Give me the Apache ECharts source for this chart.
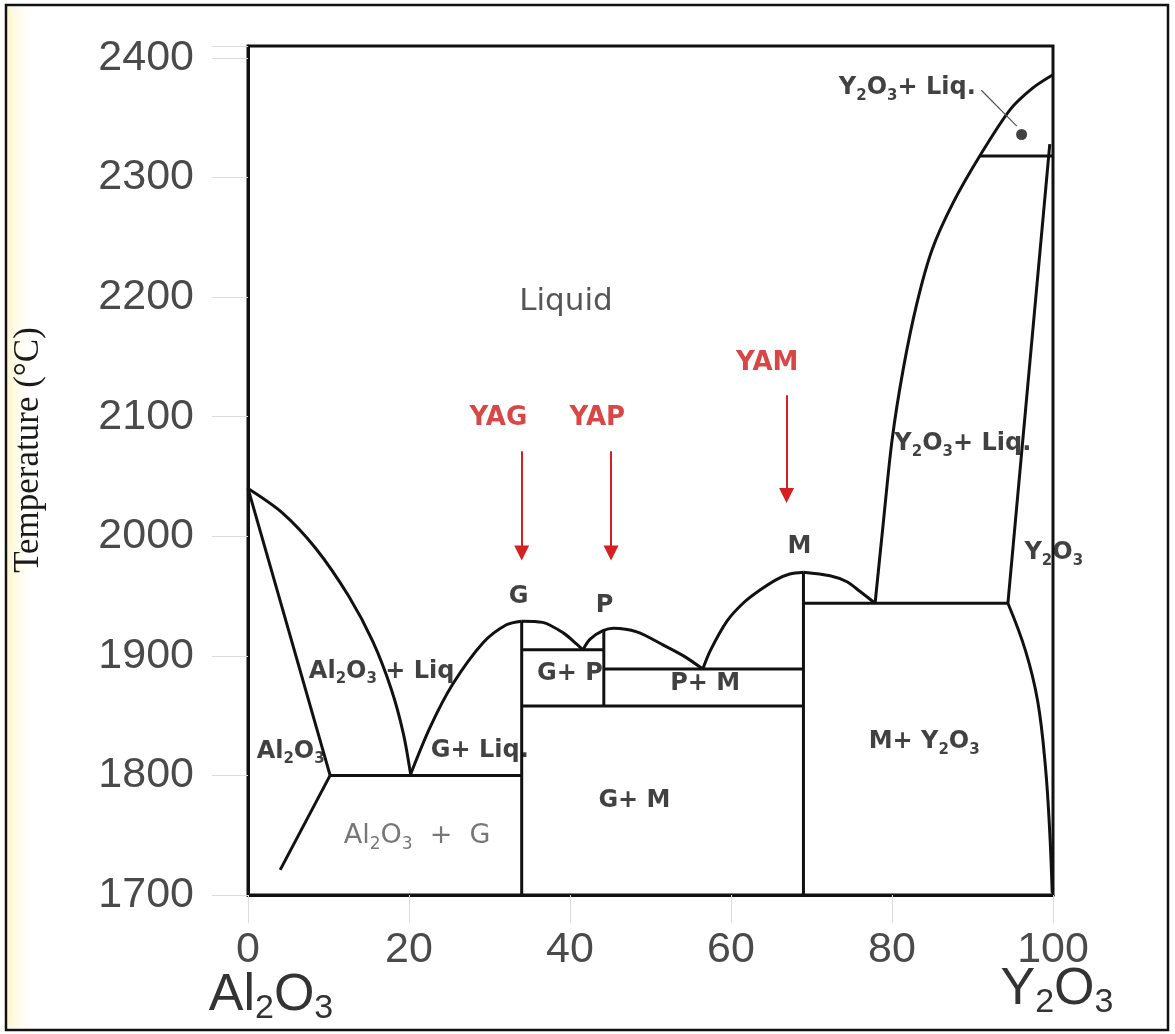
<!DOCTYPE html>
<html><head><meta charset="utf-8">
<script src="https://cdn.jsdelivr.net/npm/echarts@6/dist/echarts.min.js"></script>
<style>html,body{margin:0;padding:0;background:#fff}#c{width:1175px;height:1034px}</style>
</head><body><div id="c"></div>
<script>
// ---- axis ranges / ticks ----
const xRange = [0, 100];
const xTickStep = 20;
const yRange = [1700, 2410];
const yTickStep = 100;

// ---- phase boundaries (mol% Y2O3, °C) ----
const liqAl2O3      = [[0,2040],[4.2,2020],[8.4,1990],[12.5,1950],[15.5,1912],[17.8,1872],[19.3,1835],[20.2,1801]];
const solidusAl2O3  = [[0,2040],[10.2,1800]];
const solvusAl2O3   = [[10.2,1800],[4.0,1721]];
const eutecticAG    = [[10.2,1800],[34,1800]];
const liqYAGleft    = [[20.2,1801],[22.6,1840],[25.4,1876],[29.2,1911],[32.1,1926],[34,1929]];
const liqYAGright   = [[34,1929],[36.6,1928],[39.2,1919],[40.8,1910],[41.6,1905]];
const liqYAP        = [[41.6,1905],[42.5,1914],[44.1,1921],[45.4,1923],[48.3,1920],[51.6,1909],[54.1,1900],[56.5,1889]];
const liqYAMleft    = [[56.5,1889],[57.4,1904],[59.5,1929],[61.5,1944],[63.6,1955],[65.7,1964],[67.3,1968.5],[69,1970]];
const liqYAMright   = [[69,1970],[72.3,1967],[74.4,1962],[76.0,1954],[77.9,1944]];
const liqY2O3       = [[77.9,1944],[78.9,2010],[80.0,2080],[81.4,2140],[83.1,2195],[85.0,2240],[87.6,2279],[90.9,2318],[94.7,2357],[97.5,2375],[100,2386]];
const solidusY2O3   = [[94.4,1944],[99.6,2328]];
const solvusY2O3    = [[94.4,1944],[96.6,1904],[98.1,1862],[99.05,1808],[99.6,1752],[99.9,1702]];
const lineYAG       = [[34,1700],[34,1929]];
const lineYAP       = [[44.2,1858],[44.2,1921]];
const lineYAM       = [[69,1700],[69,1970]];
const tieGP         = [[34,1905],[44.2,1905]];
const tieGM         = [[34,1858],[69,1858]];
const tiePM         = [[44.2,1889],[69,1889]];
const tieMY         = [[69,1944],[94.4,1944]];
const tieY2O3top    = [[90.9,2318],[100,2318]];
const leader        = [[91.1,2373],[95.5,2343]];
const dotPoint      = [[96.1,2336]];

// ---- red composition arrows ----
const arrowX    = [34, 45.1, 66.9];
const arrowFrom = [2071, 2071, 2118];
const arrowTo   = [1986, 1986, 2034];

// ---- region / point labels ----
const labelText = ['Liquid','G','P','M','Al{s|2}O{s|3} + Liq','Al{s|2}O{s|3}','G+ Liq.','Al{s|2}O{s|3}  +  G','G+ P','P+ M','G+ M','M+ Y{s|2}O{s|3}','Y{s|2}O{s|3}+ Liq.','Y{s|2}O{s|3}','Y{s|2}O{s|3}+ Liq.','YAG','YAP','YAM'];
const labelX    = [39.5, 33.6, 44.3, 68.5, 16.6, 5.3, 28.8, 21.0, 40.0, 56.8, 48.0, 84.0, 88.8, 100.1, 81.9, 31.1, 43.4, 64.5];
const labelY    = [2196, 1949, 1942, 1991, 1887, 1820, 1821, 1749, 1885, 1877, 1779, 1828, 2077, 1986, 2375, 2099, 2099, 2145];
const labelKind = ['liquid','bold','bold','bold','bold','bold','bold','gray','bold','bold','bold','bold','bold','bold','bold','red','red','red'];

const kindStyle = {
  bold:   {fontFamily:'DejaVu Sans', fontWeight:'bold', fontSize:24, color:'#111', sub:15, pad:16},
  gray:   {fontFamily:'DejaVu Sans', fontWeight:'normal', fontSize:27, color:'#555', sub:17, pad:16},
  liquid: {fontFamily:'DejaVu Sans', fontWeight:'normal', fontSize:31, color:'#2a2a2a', sub:18, pad:16},
  red:    {fontFamily:'DejaVu Sans', fontWeight:'bold', fontSize:26, color:'#d01818', sub:15, pad:16}
};

const boundaries = [
  [liqAl2O3, 0.3], [solidusAl2O3, 0], [solvusAl2O3, 0], [eutecticAG, 0],
  [liqYAGleft, 0.3], [liqYAGright, 0.3], [liqYAP, 0.3], [liqYAMleft, 0.3], [liqYAMright, 0.3],
  [liqY2O3, 0.3], [solidusY2O3, 0], [solvusY2O3, 0.4],
  [lineYAG, 0], [lineYAP, 0], [lineYAM, 0], [tieGP, 0], [tieGM, 0], [tiePM, 0], [tieMY, 0], [tieY2O3top, 0]
];

const series = boundaries.map(([d, sm]) => ({
  type: 'line', data: d, showSymbol: false, smooth: sm, clip: false, silent: true,
  lineStyle: {color: '#111', width: 3}, z: 3
}));

series.push({
  type: 'line', data: leader, showSymbol: false, silent: true,
  lineStyle: {color: '#555', width: 1.2}, z: 3
});
series.push({
  type: 'scatter', data: dotPoint, symbol: 'circle', symbolSize: 11, silent: true,
  itemStyle: {color: '#111'}, z: 4
});
series.push({
  type: 'line', data: [], silent: true,
  markLine: {
    silent: true, symbol: ['none', 'triangle'], symbolSize: [15, 15],
    lineStyle: {color: '#d42020', width: 2, type: 'solid'},
    itemStyle: {color: '#d42020'},
    label: {show: false}, animation: false,
    data: arrowX.map((x, i) => [{coord: [x, arrowFrom[i]]}, {coord: [x, arrowTo[i]]}])
  }
});
series.push({
  type: 'scatter', symbolSize: 0, silent: true, clip: false, z: 5,
  data: labelText.map((t, i) => {
    const k = kindStyle[labelKind[i]];
    return {
      value: [labelX[i], labelY[i]],
      label: {
        show: true, position: 'inside', formatter: t,
        fontFamily: k.fontFamily, fontWeight: k.fontWeight, fontSize: k.fontSize, color: k.color,
        rich: {s: {fontFamily: k.fontFamily, fontWeight: k.fontWeight, fontSize: k.sub, color: k.color, padding: [k.pad, 0, 0, 0]}}
      }
    };
  })
});

const chart = echarts.init(document.getElementById('c'), null, {renderer: 'canvas'});
chart.setOption({
  animation: false,
  backgroundColor: '#ffffff',
  grid: {left: 248, right: 122, top: 46, bottom: 139, show: true, borderColor: '#111', borderWidth: 3, backgroundColor: 'transparent'},
  xAxis: {
    type: 'value', min: xRange[0], max: xRange[1], interval: xTickStep,
    axisLine: {show: true, onZero: false, lineStyle: {color: '#111', width: 3}},
    axisTick: {show: true, length: 28, inside: false, lineStyle: {color: '#dcdcdc', width: 1}},
    axisLabel: {margin: 34, fontFamily: 'Liberation Sans', fontSize: 43, color: '#4a4a4a'},
    splitLine: {show: false}
  },
  yAxis: {
    type: 'value', min: yRange[0], max: yRange[1], interval: yTickStep,
    axisLine: {show: true, onZero: false, lineStyle: {color: '#111', width: 3}},
    axisTick: {show: true, length: 36, lineStyle: {color: '#dcdcdc', width: 1}},
    axisLabel: {margin: 54, fontFamily: 'Liberation Sans', fontSize: 43, color: '#4a4a4a',
      formatter: v => (v % 100 === 0 ? String(v) : '')},
    splitLine: {show: false}
  },
  graphic: [
    {type: 'rect', z: -10, shape: {x: 8, y: 7, width: 30, height: 1021},
      style: {fill: {type: 'linear', x: 0, y: 0, x2: 1, y2: 0, colorStops: [{offset: 0, color: 'rgba(255,246,205,0.9)'}, {offset: 1, color: 'rgba(255,255,255,0)'}]}}},
    {type: 'rect', z: 100, shape: {x: 6, y: 5, width: 1162, height: 1025},
      style: {fill: 'none', stroke: '#111', lineWidth: 2.5}},
    {type: 'text', z: 100, x: 29, y: 450, rotation: Math.PI / 2,
      style: {text: 'Temperature (°C)', font: '35px "Liberation Serif"', fill: '#1a1a1a', align: 'center', verticalAlign: 'middle'}},
    {type: 'text', z: 100, x: 271, y: 996,
      style: {text: 'Al{s|2}O{s|3}', fontFamily: 'Liberation Sans', fontSize: 52, fill: '#333', align: 'center', verticalAlign: 'middle',
        rich: {s: {fontFamily: 'Liberation Sans', fontSize: 34, fill: '#333', padding: [26, 0, 0, 0]}}}},
    {type: 'text', z: 100, x: 1057, y: 990,
      style: {text: 'Y{s|2}O{s|3}', fontFamily: 'Liberation Sans', fontSize: 52, fill: '#333', align: 'center', verticalAlign: 'middle',
        rich: {s: {fontFamily: 'Liberation Sans', fontSize: 34, fill: '#333', padding: [26, 0, 0, 0]}}}}
  ],
  series: series
});
</script></body></html>
